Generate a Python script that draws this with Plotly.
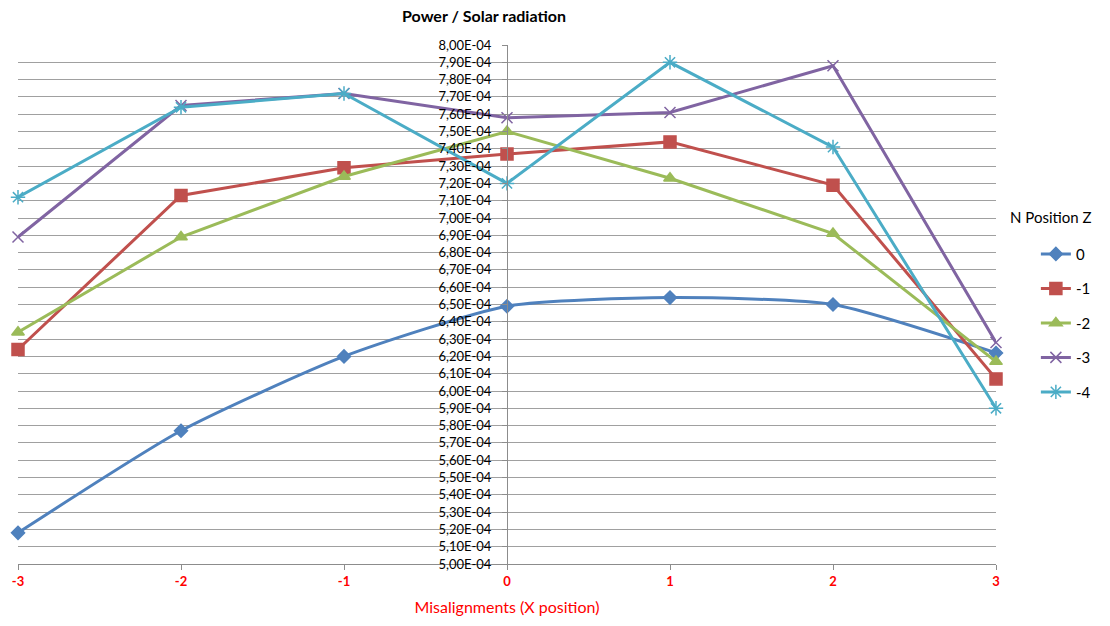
import plotly.graph_objects as go

# X positions (misalignment) and measured power / solar radiation per Z position
x_pos = [-3, -2, -1, 0, 1, 2, 3]
z_names = ["0", "-1", "-2", "-3", "-4"]
z0 = [5.18e-4, 5.77e-4, 6.20e-4, 6.49e-4, 6.54e-4, 6.50e-4, 6.22e-4]
z1 = [6.24e-4, 7.13e-4, 7.29e-4, 7.37e-4, 7.44e-4, 7.19e-4, 6.07e-4]
z2 = [6.34e-4, 6.89e-4, 7.24e-4, 7.50e-4, 7.23e-4, 6.91e-4, 6.17e-4]
z3 = [6.89e-4, 7.65e-4, 7.72e-4, 7.58e-4, 7.61e-4, 7.88e-4, 6.28e-4]
z4 = [7.12e-4, 7.64e-4, 7.72e-4, 7.20e-4, 7.90e-4, 7.41e-4, 5.90e-4]

# Y ticks every 0.1E-04 from 5.00E-04 to 8.00E-04, comma as decimal separator
y_ticks = [round(5.0e-4 + i * 1e-5, 7) for i in range(31)]
y_ticktext = [f"{v:.2E}".replace(".", ",") for v in y_ticks]
x_ticktext = ["-3", "-2", "-1", "0", "1", "2", "3"]

series = [z0, z1, z2, z3, z4]
colors = ["#4F81BD", "#C0504D", "#9BBB59", "#8064A2", "#4BACC6"]
symbols = ["diamond", "square", "triangle-up", "x-thin-open", "asterisk-open"]
msizes = [10, 12, 11, 11, 12]
shapes = ["spline", "linear", "linear", "linear", "linear"]

FONT = "Lato, 'Open Sans', sans-serif"

fig = go.Figure()
for name, ys, c, s, ms, sh in zip(z_names, series, colors, symbols, msizes, shapes):
    fig.add_trace(go.Scatter(
        x=x_pos, y=ys, name=name, mode="lines+markers",
        line=dict(color=c, width=3, shape=sh, smoothing=0.6),
        marker=dict(symbol=s, size=ms, color=c, line=dict(color=c, width=1.5)),
        cliponaxis=False, legendgroup=name,
    ))

fig.update_layout(
    width=1110, height=626,
    margin=dict(l=15, r=114, t=45, b=61),
    paper_bgcolor="white", plot_bgcolor="white",
    font=dict(family=FONT, color="#000000"),
    title=dict(text="<b>Power / Solar radiation</b>", x=484 / 1110, xanchor="center",
               y=1 - 16 / 626, yanchor="middle", font=dict(size=16, family=FONT)),
    showlegend=True,
    legend=dict(x=(1036 - 15) / 981, y=(565 - 238) / 520, xanchor="left", yanchor="top",
                font=dict(size=15, family=FONT), traceorder="grouped", tracegroupgap=12,
                bgcolor="rgba(0,0,0,0)"),
    annotations=[dict(text="N Position Z", xref="paper", yref="paper",
                      x=(1008 - 15) / 981, y=(565 - 217) / 520, xanchor="left", yanchor="middle",
                      showarrow=False, font=dict(size=15, family=FONT))],
)

fig.update_xaxes(
    range=[-3, 3], tickvals=x_pos, ticktext=x_ticktext,
    showgrid=False, zeroline=False,
    showline=True, linecolor="#8c8c8c", linewidth=1,
    ticks="outside", ticklen=5, tickcolor="#8c8c8c",
    tickfont=dict(size=13, color="#FF0000", family=FONT, weight="bold"),
    title=dict(text="Misalignments (X position)", font=dict(size=16, color="#FF0000", family=FONT),
               standoff=14),
)
fig.update_yaxes(
    range=[5.0e-4, 8.0e-4], tickvals=y_ticks, ticktext=y_ticktext,
    anchor="free", position=0.5,
    showgrid=True, gridcolor="#a0a0a0", gridwidth=1,
    zeroline=False, showline=True, linecolor="#8c8c8c", linewidth=1,
    ticks="outside", ticklen=5, tickcolor="#8c8c8c", ticklabelstandoff=8,
    tickfont=dict(size=13, color="#000000", family=FONT),
)

fig.write_html("out.html")
